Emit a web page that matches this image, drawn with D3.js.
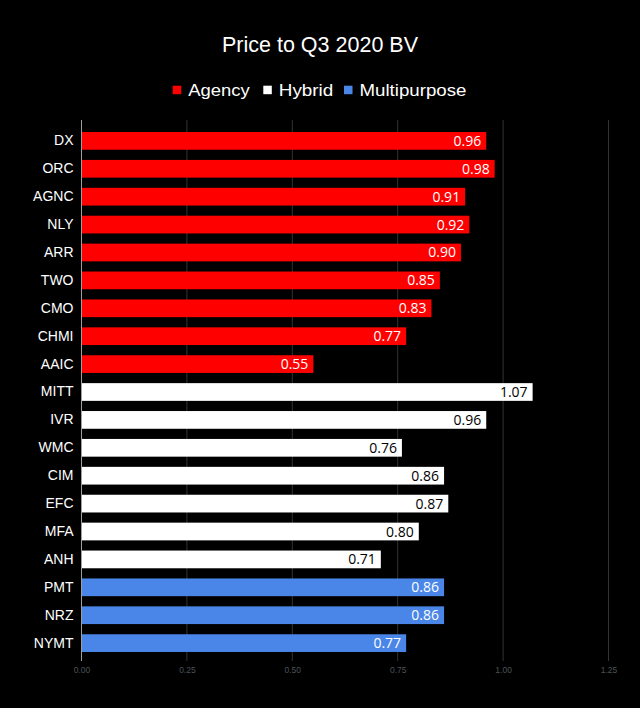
<!DOCTYPE html>
<html><head><meta charset="utf-8">
<script src="https://cdn.jsdelivr.net/npm/d3@7"></script>
<style>html,body{margin:0;padding:0;background:#000;}svg{display:block;}</style>
</head><body>
<svg id="chart" width="640" height="708"></svg>
<script>
const categories = ["DX","ORC","AGNC","NLY","ARR","TWO","CMO","CHMI","AAIC","MITT","IVR","WMC","CIM","EFC","MFA","ANH","PMT","NRZ","NYMT"];
const values = [0.96,0.98,0.91,0.92,0.90,0.85,0.83,0.77,0.55,1.07,0.96,0.76,0.86,0.87,0.80,0.71,0.86,0.86,0.77];
const groups = ["Agency","Agency","Agency","Agency","Agency","Agency","Agency","Agency","Agency","Hybrid","Hybrid","Hybrid","Hybrid","Hybrid","Hybrid","Hybrid","Multipurpose","Multipurpose","Multipurpose"];
const seriesNames = ["Agency","Hybrid","Multipurpose"];
const seriesColors = ["#ff0000","#ffffff","#4a86e8"];
const labelColors = ["#ffffff","#000000","#ffffff"];
const tickValues = [0,0.25,0.5,0.75,1.0,1.25];
const title = "Price to Q3 2020 BV";

const svg = d3.select("#chart");
svg.append("rect").attr("width",640).attr("height",708).attr("fill","#000");

const x = d3.scaleLinear().domain([0,1.25]).range([81.5,608.5]);
const y = d3.scaleBand().domain(categories).range([127,657]).paddingInner(0.365).paddingOuter(0.18);
const color = d3.scaleOrdinal().domain(seriesNames).range(seriesColors);
const lcolor = d3.scaleOrdinal().domain(seriesNames).range(labelColors);

// title
svg.append("text").attr("x",320).attr("y",52).attr("text-anchor","middle")
  .attr("fill","#fff").attr("font-family","Liberation Sans, Arial, sans-serif").attr("font-size",21.5).text(title);

// legend
const legendX = [172.7,263.3,344];
const legendW = [61.5,54.5,107];
const lg = svg.append("g");
seriesNames.forEach((s,i)=>{
  lg.append("rect").attr("x",legendX[i]).attr("y",85.7).attr("width",8.5).attr("height",8.5).attr("fill",color(s));
  lg.append("text").attr("x",legendX[i]+15.5).attr("y",95.8).attr("fill","#fff")
    .attr("font-family","Liberation Sans, Arial, sans-serif").attr("font-size",17)
    .attr("textLength",legendW[i]).attr("lengthAdjust","spacingAndGlyphs").text(s);
});

// grid
const grid = svg.append("g");
tickValues.forEach(t=>{
  if(t===0) return;
  grid.append("line").attr("x1",x(t)).attr("x2",x(t)).attr("y1",120).attr("y2",661)
    .attr("stroke","#333").attr("stroke-width",1);
});

// bars
svg.append("g").selectAll("rect").data(categories).join("rect")
  .attr("x",x(0)).attr("y",d=>y(d)).attr("width",(d,i)=>x(values[i])-x(0)).attr("height",y.bandwidth())
  .attr("fill",(d,i)=>color(groups[i]));

// zero axis line
svg.append("line").attr("x1",x(0)).attr("x2",x(0)).attr("y1",120).attr("y2",661).attr("stroke","#9e9e9e").attr("stroke-width",1);

// value labels
svg.append("g").selectAll("text").data(categories).join("text")
  .attr("x",(d,i)=>x(values[i])-5).attr("y",d=>y(d)+y.bandwidth()/2+5)
  .attr("text-anchor","end").attr("fill",(d,i)=>lcolor(groups[i]))
  .attr("font-family","Open Sans, Noto Sans, sans-serif").attr("font-size",14)
  .text((d,i)=>values[i].toFixed(2));

// category labels
const yAxis = d3.axisLeft(y).tickSize(0).tickPadding(8);
const ya = svg.append("g").attr("transform",`translate(${x(0)},0)`).call(yAxis);
ya.select(".domain").remove();
ya.selectAll("text").attr("fill","#fff").attr("font-family","Liberation Sans, Arial, sans-serif").attr("font-size",14);

// x axis
const xAxis = d3.axisBottom(x).tickValues(tickValues).tickSize(0).tickPadding(6).tickFormat(d3.format(".2f"));
const xa = svg.append("g").attr("transform","translate(0,661)").call(xAxis);
xa.select(".domain").remove();
xa.selectAll("text").attr("fill","#4a5358").attr("font-family","Liberation Sans, Arial, sans-serif").attr("font-size",8.5);
</script>
</body></html>
